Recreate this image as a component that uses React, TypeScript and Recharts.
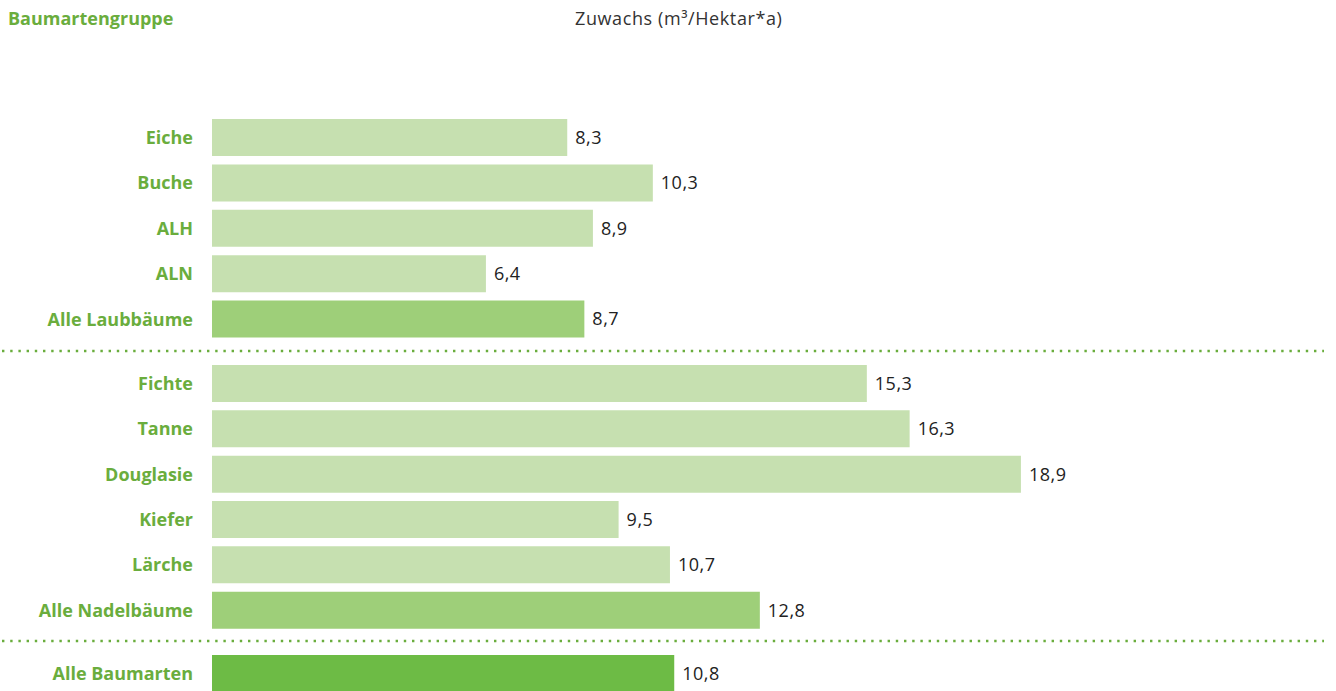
import { Bar, BarChart, Cell, LabelList, XAxis, YAxis } from 'recharts'

const laubCategories = ['Eiche', 'Buche', 'ALH', 'ALN', 'Alle Laubbäume']
const laubValues = [8.3, 10.3, 8.9, 6.4, 8.7]

const nadelCategories = ['Fichte', 'Tanne', 'Douglasie', 'Kiefer', 'Lärche', 'Alle Nadelbäume']
const nadelValues = [15.3, 16.3, 18.9, 9.5, 10.7, 12.8]

const gesamtCategories = ['Alle Baumarten']
const gesamtValues = [10.8]

const GREEN_TEXT = '#6aad3d'
const BAR_LIGHT = '#c6e0b0'
const BAR_GROUP = '#9ecf79'
const BAR_TOTAL = '#6dbb45'
const FONT = '"Open Sans", "Noto Sans", sans-serif'

const ROW = 45.3
const X_MAX = 25

const formatValue = (v: unknown) => String(v).replace('.', ',')

interface GroupProps {
	categories: string[]
	values: number[]
	top: number
	lastColor: string
	restColor: string
}

function GroupChart({ categories, values, top, lastColor, restColor }: GroupProps) {
	const data = categories.map((name, i) => ({ name, value: values[i] }))
	const height = Math.round(categories.length * ROW)
	return (
		<div style={{ position: 'absolute', left: 0, top }}>
			<BarChart
				width={1336}
				height={height}
				data={data}
				layout="vertical"
				margin={{ top: 0, right: 54, bottom: 0, left: 0 }}
			>
				<XAxis type="number" domain={[0, X_MAX]} hide />
				<YAxis
					type="category"
					dataKey="name"
					width={212}
					axisLine={false}
					tickLine={false}
					tickSize={0}
					tickMargin={19}
					interval={0}
					tick={{ fill: GREEN_TEXT, fontSize: 18, fontWeight: 700, fontFamily: FONT }}
				/>
				<Bar dataKey="value" barSize={37} isAnimationActive={false}>
					{data.map((d, i) => (
						<Cell key={d.name} fill={i === data.length - 1 ? lastColor : restColor} />
					))}
					<LabelList
						dataKey="value"
						position="right"
						offset={8}
						formatter={formatValue}
						style={{ fill: '#222', fontSize: 18, letterSpacing: 0.5, fontFamily: FONT }}
					/>
				</Bar>
			</BarChart>
		</div>
	)
}

function DottedLine({ y }: { y: number }) {
	return (
		<svg
			width={1336}
			height={6}
			style={{ position: 'absolute', left: 0, top: y - 3 }}
		>
			<line
				x1={2}
				y1={3}
				x2={1324}
				y2={3}
				stroke={GREEN_TEXT}
				strokeWidth={2.4}
				strokeDasharray="2.4 5.8"
			/>
		</svg>
	)
}

export default function App() {
	return (
		<div
			style={{
				position: 'fixed',
				left: 0,
				top: 0,
				width: 1336,
				height: 691,
				overflow: 'hidden',
				background: '#fff',
				fontFamily: FONT,
			}}
		>
			<div
				style={{
					position: 'absolute',
					left: 8,
					top: 6,
					fontSize: 18,
					fontWeight: 700,
					color: GREEN_TEXT,
				}}
			>
				Baumartengruppe
			</div>
			<div
				style={{
					position: 'absolute',
					left: 575,
					top: 6,
					fontSize: 18,
					letterSpacing: 0.6,
					color: '#333',
				}}
			>
				Zuwachs (m³/Hektar*a)
			</div>

			<GroupChart
				categories={laubCategories}
				values={laubValues}
				top={115}
				lastColor={BAR_GROUP}
				restColor={BAR_LIGHT}
			/>
			<DottedLine y={351} />
			<GroupChart
				categories={nadelCategories}
				values={nadelValues}
				top={361}
				lastColor={BAR_GROUP}
				restColor={BAR_LIGHT}
			/>
			<DottedLine y={641} />
			<GroupChart
				categories={gesamtCategories}
				values={gesamtValues}
				top={651}
				lastColor={BAR_TOTAL}
				restColor={BAR_TOTAL}
			/>
		</div>
	)
}
